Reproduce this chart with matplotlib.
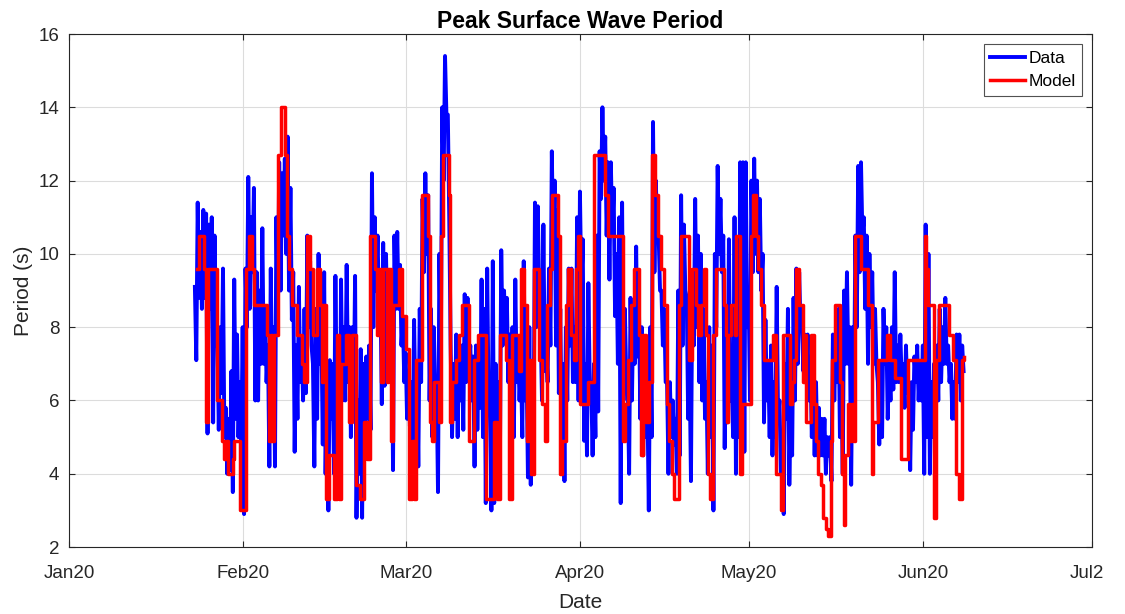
import numpy as np
import pandas as pd
import matplotlib
matplotlib.use("Agg")
import matplotlib.pyplot as plt
import matplotlib.dates as mdates
from matplotlib.transforms import Bbox, TransformedBbox

plt.rcParams['font.family'] = ['Liberation Sans', 'DejaVu Sans']
# keep every zigzag vertex of the buoy record
plt.rcParams['path.simplify'] = False

# Buoy record: first sample (days since 2020-01-01) and sample spacing (days).
# The record swings between a crest and a trough reading every half day.
DATA_T0 = 22.4
DATA_DT = 0.25

# crest readings (s), one per half day
data_crest = [
    9.1, 11.4, 10.6, 11.2, 11.1, 10.8, 11.0, 10.5, 8.0, 8.0,
    9.6, 5.8, 5.5, 6.8, 9.3, 7.8, 6.5, 8.0, 9.6, 12.1,
    11.0, 11.8, 9.5, 9.0, 10.7, 8.5, 7.5, 9.6, 8.0, 11.0,
    12.5, 12.2, 12.6, 13.2, 11.8, 9.5, 7.5, 9.1, 7.5, 8.5,
    10.5, 9.8, 7.0, 8.5, 10.0, 8.0, 9.5, 6.5, 7.1, 7.0,
    9.4, 6.5, 9.3, 8.0, 9.7, 8.0, 8.0, 9.4, 6.0, 7.4,
    7.0, 7.2, 7.5, 12.2, 11.0, 10.5, 9.0, 10.3, 10.0, 9.5,
    8.5, 10.5, 10.6, 9.7, 8.3, 7.3, 6.8, 6.5, 8.2, 7.0,
    8.5, 11.5, 12.2, 11.6, 8.5, 8.0, 6.5, 10.0, 14.0, 15.4,
    13.8, 7.5, 7.0, 7.8, 7.5, 7.5, 8.9, 8.8, 7.5, 7.2,
    7.5, 7.0, 9.3, 8.5, 9.6, 6.0, 9.8, 7.0, 6.5, 10.1,
    9.0, 8.8, 7.8, 8.0, 9.3, 7.5, 7.0, 9.8, 7.0, 8.0,
    6.5, 11.4, 11.3, 8.0, 10.8, 7.5, 9.6, 12.8, 12.0, 11.2,
    8.5, 7.0, 8.0, 9.6, 9.6, 8.0, 11.0, 11.7, 10.4, 7.0,
    9.2, 6.5, 7.0, 10.5, 12.8, 14.0, 13.2, 12.5, 12.5, 11.8,
    10.0, 11.0, 11.4, 8.5, 6.5, 8.8, 8.5, 10.2, 8.5, 8.0,
    7.0, 6.0, 8.0, 13.6, 12.0, 10.5, 9.0, 8.5, 6.5, 6.5,
    6.0, 5.5, 9.0, 11.6, 10.8, 8.8, 7.0, 9.5, 11.5, 10.5,
    10.0, 8.5, 6.5, 8.0, 7.5, 10.0, 12.4, 11.5, 10.5, 8.0,
    10.4, 6.5, 11.0, 8.0, 12.5, 12.5, 12.5, 9.0, 12.0, 12.6,
    12.0, 11.5, 10.0, 8.2, 7.0, 7.5, 6.5, 9.1, 6.0, 5.0,
    7.0, 8.5, 6.0, 8.8, 9.6, 9.5, 8.0, 7.8, 7.8, 7.0,
    7.0, 6.5, 5.8, 5.5, 5.5, 5.0, 5.0, 7.8, 7.6, 8.5,
    6.5, 9.0, 9.5, 8.0, 8.0, 10.5, 12.4, 12.5, 11.0, 10.5,
    10.0, 9.5, 8.5, 6.5, 7.0, 8.5, 8.0, 7.0, 8.0, 9.5,
    7.5, 7.8, 7.0, 7.5, 6.5, 6.5, 7.2, 7.5, 7.0, 7.5,
    10.8, 10.0, 6.5, 7.0, 7.5, 8.5, 8.0, 8.8, 7.5, 7.0,
    6.5, 7.8, 7.8, 7.5,
]
# trough readings (s), one per half day, a quarter day after each crest
data_trough = [
    7.1, 8.8, 8.5, 8.8, 5.1, 8.5, 5.4, 7.5, 5.2, 6.2,
    5.0, 4.0, 4.1, 3.5, 5.5, 5.0, 4.6, 2.9, 8.0, 8.5,
    9.5, 6.0, 6.0, 7.0, 7.0, 6.5, 4.2, 6.0, 4.2, 8.0,
    9.0, 10.5, 10.0, 9.0, 8.2, 4.6, 5.5, 6.5, 6.0, 6.2,
    8.0, 7.5, 4.2, 5.5, 7.0, 4.8, 4.0, 3.0, 5.5, 4.0,
    6.0, 3.5, 6.0, 6.0, 6.5, 5.0, 6.0, 2.8, 4.0, 2.8,
    5.0, 5.5, 5.2, 8.0, 9.0, 8.5, 5.9, 6.4, 8.0, 8.0,
    4.1, 8.5, 8.5, 7.5, 6.5, 5.5, 5.3, 4.5, 5.5, 4.2,
    6.5, 9.5, 10.0, 6.0, 5.0, 6.2, 3.5, 7.0, 12.0, 13.8,
    11.0, 5.0, 5.5, 5.0, 6.0, 5.2, 6.5, 7.0, 6.0, 4.2,
    5.2, 5.8, 5.0, 3.2, 6.0, 3.0, 3.2, 4.5, 4.0, 7.5,
    7.8, 6.5, 6.0, 5.0, 6.5, 6.0, 5.0, 6.0, 3.9, 3.7,
    5.0, 8.0, 9.0, 6.0, 6.8, 6.5, 7.5, 10.0, 7.5, 6.2,
    5.2, 3.8, 6.0, 7.5, 6.5, 6.5, 6.0, 9.0, 4.9, 4.5,
    6.5, 4.5, 5.0, 5.7, 11.5, 12.0, 10.5, 9.3, 10.5, 8.3,
    7.0, 3.2, 6.0, 6.5, 4.0, 6.0, 7.0, 7.2, 5.5, 4.5,
    5.0, 3.0, 5.0, 9.5, 10.5, 9.0, 7.5, 6.5, 4.0, 5.0,
    4.8, 4.0, 4.5, 7.5, 9.0, 5.5, 3.8, 7.5, 8.0, 6.5,
    6.0, 5.5, 4.0, 5.0, 3.0, 8.0, 10.0, 9.5, 4.7, 5.4,
    6.0, 5.0, 4.0, 5.0, 10.0, 4.6, 8.0, 6.0, 9.5, 10.0,
    9.5, 9.0, 5.4, 6.0, 5.0, 4.5, 5.0, 5.5, 4.0, 2.9,
    5.5, 3.7, 4.5, 6.0, 7.0, 8.0, 6.8, 6.5, 6.0, 5.0,
    4.5, 4.5, 4.5, 4.5, 4.0, 4.5, 3.8, 6.0, 6.5, 5.0,
    4.0, 7.0, 7.0, 3.7, 6.0, 8.0, 9.5, 10.5, 8.5, 7.0,
    8.0, 7.0, 7.0, 4.8, 5.0, 7.0, 5.5, 6.0, 6.3, 6.5,
    6.5, 6.5, 5.8, 6.2, 4.1, 5.2, 6.5, 6.0, 6.0, 4.0,
    5.0, 4.0, 5.0, 5.5, 6.0, 6.5, 7.0, 7.0, 6.5, 5.5,
    5.5, 6.5, 6.0, 6.8,
]

# Model peak period (s): change times (days since 2020-01-01) and held values
model_day = [
    22.7, 23.2, 24.1, 24.4, 24.7, 26.3, 27.3, 27.6, 28.0, 28.35, 29.1, 29.4, 30.5, 31.5, 32.0, 32.6,
    33.0, 35.2, 35.5, 36.0, 36.2, 36.5, 37.2, 37.8, 38.4, 38.7, 39.1, 39.7, 40.5, 41.4, 41.9, 42.3,
    42.9, 43.5, 44.1, 44.7, 45.0, 45.25, 45.7, 46.3, 47.2, 47.7, 48.0, 48.4, 49.2, 49.9, 50.4, 51.1,
    51.8, 52.5, 53.1, 53.6, 54.4, 54.8, 55.1, 55.5, 55.9, 56.5, 56.8, 57.2, 57.65, 58.7, 59.3, 59.9,
    60.5, 61.0, 61.4, 61.8, 62.75, 63.8, 64.3, 64.6, 65.0, 65.8, 66.2, 66.5, 67.6, 67.85, 68.2, 68.8,
    69.3, 69.9, 71.2, 72.1, 72.7, 74.1, 75.7, 76.1, 76.7, 77.75, 78.3, 78.8, 80.1, 80.4, 81.0, 81.4,
    81.7, 82.2, 82.8, 83.7, 84.1, 84.6, 85.0, 85.6, 86.0, 86.95, 87.3, 87.65, 88.4, 88.8, 89.3, 89.8,
    90.2, 90.6, 90.98, 92.3, 93.35, 95.4, 95.85, 98.5, 98.9, 99.4, 99.9, 100.5, 101.4, 101.8, 102.1, 102.6,
    103.2, 103.8, 104.3, 104.75, 105.3, 105.8, 106.4, 106.8, 107.2, 107.65, 108.5, 108.9, 110.3, 110.9, 111.5, 111.9,
    112.45, 112.9, 113.3, 113.65, 114.1, 114.65, 115.1, 116.6, 116.85, 117.0, 117.3, 117.8, 118.4, 118.75, 119.4, 119.8,
    121.4, 121.7, 122.2, 122.5, 123.1, 123.7, 125.2, 125.8, 126.7, 127.1, 128.2, 128.6, 128.9, 129.3, 129.8, 130.5,
    130.8, 131.2, 132.0, 132.5, 132.9, 133.3, 133.7, 134.2, 134.6, 135.0, 135.5, 135.7, 136.2, 137.1, 137.5, 137.8,
    138.1, 138.55, 139.0, 139.3, 139.6, 139.9, 140.9, 142.1, 142.8, 143.1, 143.9, 145.5, 146.0, 146.9, 148.0, 149.2,
    152.2, 152.55, 152.9, 153.9, 154.3, 154.8, 156.6, 157.2, 157.8, 158.4, 158.8, 159.2,
]
model_period = [
    9.6, 10.5, 9.6, 5.4, 9.6, 6.0, 4.9, 4.4, 4.9, 4.0, 4.4, 4.9, 3.0, 9.6, 10.5, 9.6,
    8.6, 7.8, 4.9, 7.8, 4.9, 7.8, 12.7, 14.0, 12.7, 10.5, 9.6, 8.6, 7.8, 7.0, 6.5, 10.5,
    9.6, 7.8, 9.6, 8.6, 6.5, 8.6, 3.3, 4.5, 3.3, 7.8, 3.3, 7.0, 7.8, 5.4, 7.8, 3.7,
    3.3, 5.4, 4.4, 10.5, 9.6, 7.8, 9.6, 6.5, 9.6, 6.5, 9.6, 4.9, 8.6, 9.6, 8.3, 7.4,
    3.3, 4.9, 3.3, 7.1, 11.6, 10.5, 5.4, 4.9, 6.5, 5.4, 10.5, 12.7, 11.6, 5.4, 6.5, 7.1,
    7.8, 8.6, 4.9, 7.1, 7.8, 3.3, 5.4, 3.3, 7.8, 7.1, 3.3, 7.8, 6.8, 9.6, 8.6, 4.9,
    7.1, 4.0, 9.6, 7.1, 5.9, 4.9, 8.6, 9.6, 11.6, 10.5, 4.0, 4.9, 8.6, 9.6, 7.8, 7.1,
    9.6, 10.5, 5.9, 6.5, 12.7, 11.6, 10.5, 4.9, 5.9, 7.1, 8.6, 9.6, 7.8, 4.5, 7.8, 5.4,
    6.5, 12.7, 11.6, 10.5, 9.6, 8.6, 5.9, 4.9, 4.0, 3.3, 8.6, 10.5, 7.1, 9.6, 8.6, 7.8,
    8.6, 9.6, 7.8, 4.0, 3.3, 7.8, 9.6, 8.6, 7.8, 5.4, 7.8, 8.6, 7.8, 10.5, 4.0, 5.9,
    10.5, 11.6, 10.5, 9.6, 8.6, 7.1, 7.8, 4.0, 3.0, 7.8, 5.9, 6.5, 7.1, 9.6, 8.6, 6.5,
    7.8, 5.4, 7.8, 5.9, 4.9, 4.0, 3.7, 2.8, 2.5, 2.3, 4.9, 7.1, 8.6, 6.5, 4.0, 2.6,
    4.5, 5.9, 4.9, 5.9, 4.9, 10.5, 9.6, 8.6, 4.0, 5.4, 7.1, 7.8, 7.1, 6.6, 4.4, 7.1,
    10.5, 9.6, 8.6, 2.8, 7.1, 8.6, 7.8, 7.1, 4.0, 3.3, 7.1, 7.2,
]

START = pd.Timestamp("2020-01-01")


def to_dates(days):
    return START + pd.to_timedelta(np.asarray(days), unit="D")


# interleave crest/trough readings into one time-ordered record
data_period = np.column_stack([data_crest, data_trough]).ravel()
data_day = DATA_T0 + DATA_DT * np.arange(len(data_period))

fig = plt.figure(figsize=(11.25, 6.14), dpi=100)
ax = fig.add_axes([0.0613, 0.109, 0.9094, 0.8356])

ax.plot(to_dates(data_day), data_period, color="#0000ff", lw=2.8, label="Data")
ax.plot(to_dates(model_day), model_period, color="#ff0000", lw=2.5,
        drawstyle="steps-post", label="Model")

ax.set_xlim(pd.Timestamp("2020-01-01"), pd.Timestamp("2020-07-01"))
ax.set_ylim(2, 16)
ax.set_yticks(np.arange(2, 17, 2))
ax.xaxis.set_major_locator(mdates.MonthLocator())
ax.xaxis.set_major_formatter(mdates.DateFormatter("%b%y"))

ax.grid(True, color="#dcdcdc", lw=0.8)
ax.set_axisbelow(True)
ax.tick_params(direction="in", length=4, width=0.8, colors="#262626",
               labelsize=13.5, top=True, right=True)
ax.tick_params(axis="x", pad=13)
ax.tick_params(axis="y", pad=7)
for s in ax.spines.values():
    s.set_color("#262626")
    s.set_linewidth(0.8)

ax.set_title("Peak Surface Wave Period", fontsize=16.5, fontweight="bold", pad=4)
ax.set_xlabel("Date", fontsize=15, color="#262626", labelpad=8)
ax.set_ylabel("Period (s)", fontsize=15, color="#262626", labelpad=4)

leg = ax.legend(loc="upper right", fontsize=12.5, frameon=True, fancybox=False,
                handlelength=2.0, handletextpad=0.2, borderpad=0.35,
                labelspacing=0.5, borderaxespad=0.6)
leg.get_frame().set_edgecolor("#262626")
leg.get_frame().set_linewidth(0.8)

# the exported figure cuts the last month label at the right edge
fig.canvas.draw()
edge = TransformedBbox(Bbox([[0, 0], [1103 / 1125, 1]]), fig.transFigure)
last = ax.xaxis.get_major_ticks()[-1].label1
last.set_clip_on(True)
last.set_clip_box(edge)

fig.savefig("out.png", dpi=100)
